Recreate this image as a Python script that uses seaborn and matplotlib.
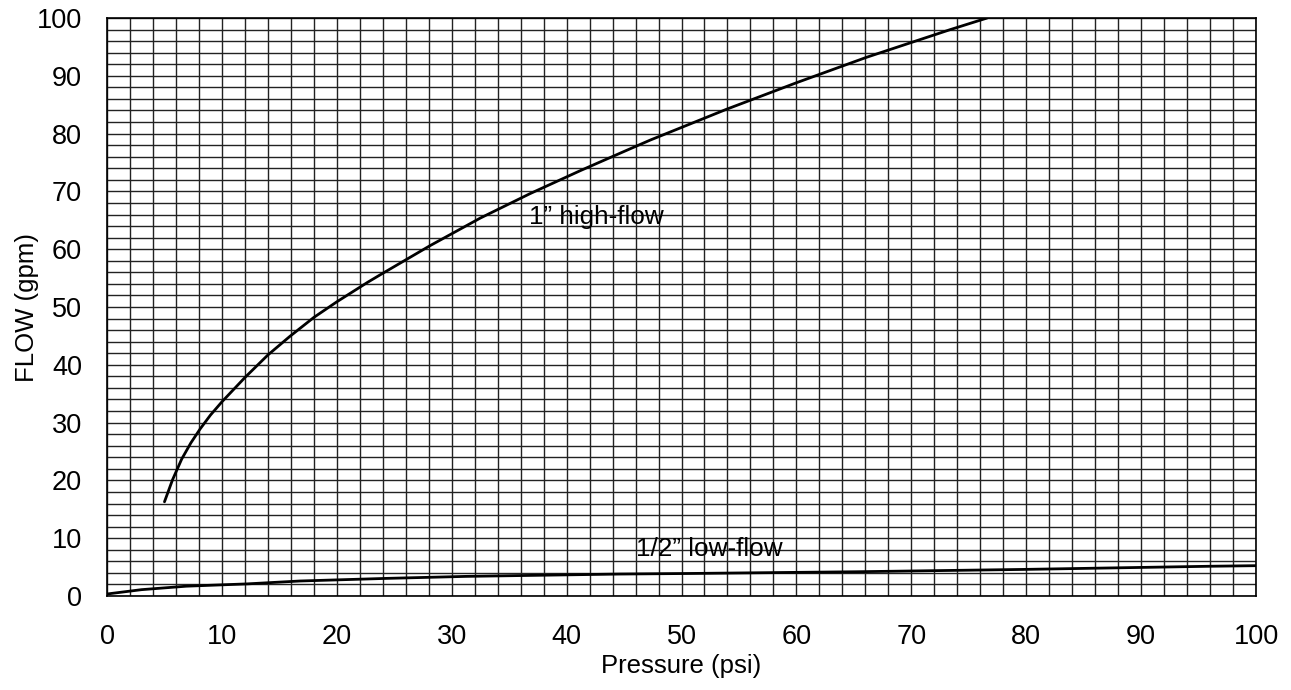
import pandas as pd
import seaborn as sns
import matplotlib.pyplot as plt
from matplotlib.ticker import MultipleLocator

# values
high_psi = [5.0, 5.7, 6.5, 7.3, 8.1, 9.0, 10.0, 12.0, 14.0, 15.9, 18.0, 20.0, 22.7,
            23.8, 28.1, 32.5, 36.8, 41.2, 45.1, 47.3, 53.9, 60.0, 66.1, 73.4, 76.6]
high_gpm = [16.3, 20.1, 23.7, 26.5, 28.9, 31.3, 33.6, 37.8, 41.7, 44.9, 48.2, 50.9, 54.3,
            55.6, 60.6, 65.4, 69.6, 73.6, 77.0, 78.9, 84.2, 88.8, 93.2, 98.0, 100.0]

low_psi = [0.0, 3.0, 6.9, 12.2, 16.8, 24.3, 31.3, 44.6, 50.7, 65.2, 79.7, 96.0, 100.0]
low_gpm = [0.35, 1.1, 1.7, 2.1, 2.6, 3.05, 3.4, 3.8, 3.9, 4.2, 4.6, 5.15, 5.25]

x_ticks = list(range(0, 101, 10))
y_ticks = list(range(0, 101, 10))

high = pd.DataFrame({"Pressure (psi)": high_psi, "FLOW (gpm)": high_gpm})
low = pd.DataFrame({"Pressure (psi)": low_psi, "FLOW (gpm)": low_gpm})


def main():
    sns.set_style("white")
    plt.rcParams['font.family'] = ['Liberation Sans', 'DejaVu Sans']
    plt.rcParams['text.color'] = 'black'
    plt.rcParams['axes.labelcolor'] = 'black'
    plt.rcParams['xtick.color'] = 'black'
    plt.rcParams['ytick.color'] = 'black'

    fig = plt.figure(figsize=(12.91, 6.9), dpi=100)
    ax = fig.add_axes([0.0829, 0.1362, 0.89, 0.8377])

    sns.lineplot(data=high, x="Pressure (psi)", y="FLOW (gpm)", color="black",
                 linewidth=2, ax=ax, sort=False)
    sns.lineplot(data=low, x="Pressure (psi)", y="FLOW (gpm)", color="black",
                 linewidth=2, ax=ax, sort=False)

    ax.set_xlim(0, 100)
    ax.set_ylim(0, 100)
    ax.set_xticks(x_ticks)
    ax.set_yticks(y_ticks)
    ax.xaxis.set_minor_locator(MultipleLocator(2))
    ax.yaxis.set_minor_locator(MultipleLocator(2))
    ax.grid(which="both", color="#222222", linewidth=1.0)
    ax.set_axisbelow(True)
    ax.tick_params(which="both", length=0, labelsize=19.5)
    ax.tick_params(axis="x", pad=20)
    ax.tick_params(axis="y", pad=18)
    for s in ax.spines.values():
        s.set_color("black")
        s.set_linewidth(1.2)

    ax.set_xlabel("Pressure (psi)", fontsize=18.5)
    ax.set_ylabel("FLOW (gpm)", fontsize=18.5)
    ax.xaxis.set_label_coords(0.5, -0.1)
    ax.yaxis.set_label_coords(-0.059, 0.5)

    ax.text(36.7, 65.5, "1\u201d high-flow", fontsize=18.8, va="center", ha="left")
    ax.text(46.0, 8.2, "1/2\u201d low-flow", fontsize=18.8, va="center", ha="left")

    fig.savefig("out.png", dpi=100)


if __name__ == '__main__':
    main()
